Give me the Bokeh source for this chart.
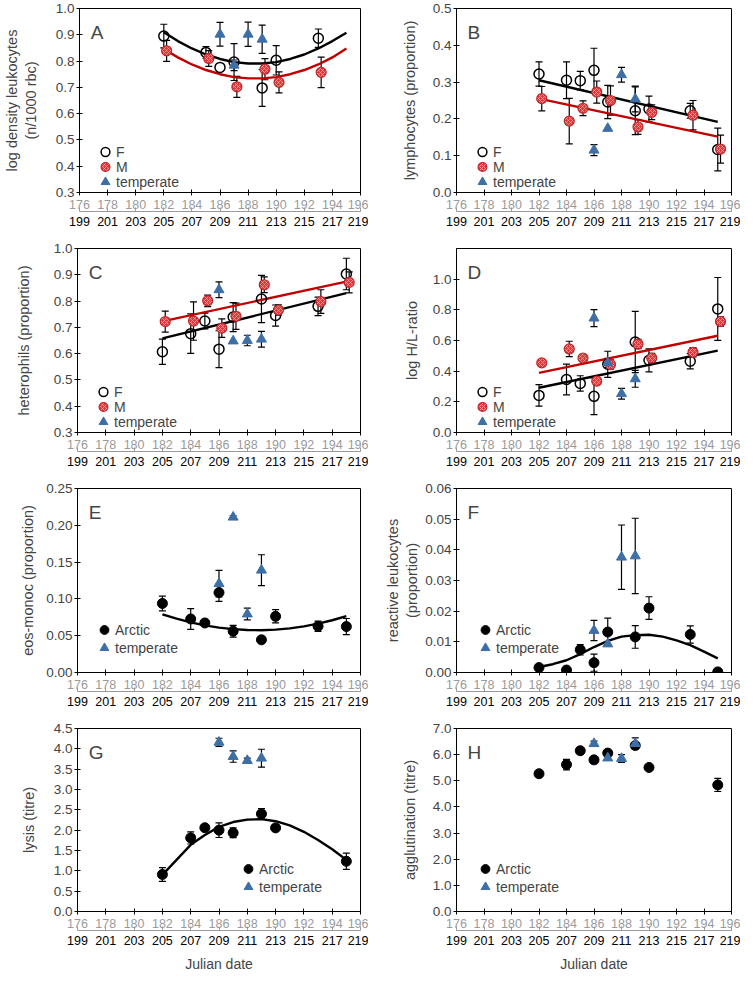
from bokeh.plotting import figure
from bokeh.models import (LinearAxis, Range1d, Whisker, TeeHead, ColumnDataSource,
                          Legend, LegendItem, Label, FixedTicker, SingleIntervalTicker,
                          NumeralTickFormatter)
from bokeh.layouts import column, row
from bokeh.embed import file_html
from bokeh.resources import INLINE

# ---------------- data ----------------
X_TICKS = [176, 178, 180, 182, 184, 186, 188, 190, 192, 194, 196]
JD_TICKS = [199, 201, 203, 205, 207, 209, 211, 213, 215, 217, 219]
FIT_DAYS = [182, 183, 184, 185, 186, 187, 188, 189, 190, 191, 192, 193, 194, 195]
LINE_DAYS = [182, 195]
DAYS9 = [182, 184, 185, 186, 187, 189, 190, 193, 195]
DAYS8 = [182, 184, 185, 186, 187, 189, 190, 195]
T_DAYS = [186, 187, 188, 189]

# A: log density leukocytes
A_F_days = [182, 185, 186, 187, 189, 190, 193]
A_F = [0.895, 0.833, 0.776, 0.796, 0.698, 0.803, 0.887]
A_F_se = [0.045, 0.022, 0.0, 0.07, 0.07, 0.056, 0.035]
A_M_days = [182, 185, 187, 189, 190, 193]
A_M = [0.839, 0.810, 0.702, 0.769, 0.719, 0.757]
A_M_se = [0.04, 0.03, 0.04, 0.04, 0.04, 0.058]
A_T = [0.902, 0.784, 0.902, 0.883]
A_T_se = [0.045, 0.02, 0.046, 0.054]
A_fitF = [0.910, 0.876, 0.848, 0.825, 0.808, 0.796, 0.791, 0.791, 0.796, 0.808, 0.825, 0.848, 0.876, 0.908]
A_fitM = [0.846, 0.814, 0.787, 0.766, 0.750, 0.739, 0.734, 0.734, 0.739, 0.750, 0.766, 0.787, 0.814, 0.848]

# B: lymphocytes
B_F = [0.322, 0.305, 0.304, 0.332, 0.246, 0.222, 0.227, 0.222, 0.117]
B_F_se = [0.033, 0.05, 0.025, 0.06, 0.045, 0.065, 0.035, 0.02, 0.058]
B_M = [0.255, 0.194, 0.229, 0.273, 0.250, 0.178, 0.218, 0.210, 0.118]
B_M_se = [0.033, 0.062, 0.02, 0.03, 0.04, 0.02, 0.02, 0.04, 0.038]
B_T = [0.115, 0.174, 0.320, 0.254]
B_T_se = [0.015, 0.0, 0.02, 0.035]
B_fitF = [0.305, 0.192]
B_fitM = [0.255, 0.152]

# C: heterophils
C_F = [0.607, 0.676, 0.724, 0.617, 0.739, 0.808, 0.745, 0.780, 0.903]
C_F_se = [0.048, 0.075, 0.03, 0.07, 0.055, 0.09, 0.04, 0.035, 0.06]
C_M = [0.722, 0.724, 0.801, 0.697, 0.742, 0.862, 0.766, 0.798, 0.871]
C_M_se = [0.04, 0.073, 0.022, 0.035, 0.05, 0.03, 0.02, 0.045, 0.04]
C_T = [0.843, 0.648, 0.650, 0.655]
C_T_se = [0.03, 0.0, 0.02, 0.03]
C_fitF = [0.658, 0.830]
C_fitM = [0.723, 0.874]

# D: log H/L ratio
D_F = [0.242, 0.346, 0.320, 0.236, 0.445, 0.590, 0.471, 0.465, 0.806]
D_F_se = [0.07, 0.10, 0.05, 0.12, 0.085, 0.20, 0.075, 0.05, 0.205]
D_M = [0.454, 0.545, 0.486, 0.335, 0.443, 0.577, 0.486, 0.523, 0.724]
D_M_se = [0.02, 0.05, 0.015, 0.02, 0.03, 0.03, 0.03, 0.03, 0.03]
D_T = [0.746, 0.454, 0.253, 0.350]
D_T_se = [0.055, 0.03, 0.035, 0.055]
D_fitF = [0.292, 0.534]
D_fitM = [0.389, 0.631]

# E: eos-monoc
E_A = [0.0938, 0.0727, 0.0673, 0.1086, 0.0561, 0.0444, 0.0763, 0.0628, 0.0624]
E_A_se = [0.010, 0.014, 0.003, 0.012, 0.008, 0.004, 0.009, 0.007, 0.011]
E_T = [0.1207, 0.211, 0.0794, 0.139]
E_T_se = [0.018, 0.002, 0.008, 0.021]
E_fit = [0.0790, 0.0731, 0.0681, 0.0641, 0.0610, 0.0589, 0.0577, 0.0575, 0.0583, 0.0600, 0.0627, 0.0664, 0.0710, 0.0766]

# F: reactive leukocytes
F_A = [0.0016, 0.0008, 0.0074, 0.0032, 0.0132, 0.0116, 0.0210, 0.0124, 0.0002]
F_A_se = [0.0005, 0.0, 0.0017, 0.0028, 0.0045, 0.0037, 0.0037, 0.0028, 0.0]
F_T = [0.0137, 0.0093, 0.0376, 0.0380]
F_T_se = [0.0033, 0.0, 0.0105, 0.0123]
F_fit = [0.0018, 0.0027, 0.0040, 0.0060, 0.0083, 0.0103, 0.0117, 0.0122, 0.0123, 0.0117, 0.0105, 0.0089, 0.0068, 0.0046]

# G: lysis
G_A = [0.911, 1.81, 2.06, 2.00, 1.935, 2.40, 2.056, 1.234]
G_A_se = [0.17, 0.15, 0.05, 0.18, 0.12, 0.13, 0.0, 0.2]
G_T = [4.16, 3.81, 3.71, 3.77]
G_T_se = [0.1, 0.14, 0.06, 0.22]
G_fit = [0.90, 1.27, 1.64, 1.88, 2.08, 2.20, 2.26, 2.27, 2.22, 2.12, 1.96, 1.76, 1.53, 1.27]

# H: agglutination
H_A = [5.27, 5.62, 6.15, 5.80, 6.06, 6.35, 5.51, 4.84]
H_A_se = [0.1, 0.2, 0.0, 0.05, 0.05, 0.1, 0.0, 0.25]
H_T = [6.42, 5.87, 5.85, 6.42]
H_T_se = [0.1, 0.0, 0.15, 0.22]

# ---------------- style ----------------
FONT = "Liberation Sans"
GRAY = "#9a9a9a"
BLUE = "#3d6fa6"
RED_LINE = "#c00000"
M_DODGE = 0.2


def make_fig(letter, ylo, yhi, ystep, yfmt, ylabel, left, bottom_row, label_standoff):
    if left:
        w, bl, br = 368, 77, 8
    else:
        w, bl, br = 372, 88, 9
    h = 254 if bottom_row else 240
    bb = 62 if bottom_row else 48
    p = figure(width=w, height=h, x_range=Range1d(176, 196), y_range=Range1d(ylo, yhi),
               output_backend="svg", toolbar_location=None,
               min_border_left=bl, min_border_right=br, min_border_top=8,
               min_border_bottom=bb, outline_line_color="black", outline_line_width=1)
    p.grid.visible = False
    p.background_fill_color = "white"
    p.border_fill_color = "white"

    xa = p.xaxis[0]
    xa.ticker = FixedTicker(ticks=X_TICKS)
    xa.axis_line_color = "black"
    xa.major_tick_line_color = "black"
    xa.major_tick_in = 3
    xa.major_tick_out = 3
    xa.minor_tick_line_color = None
    xa.major_label_text_color = GRAY
    xa.major_label_text_font = FONT
    xa.major_label_text_font_size = "12.5px"
    xa.major_label_standoff = 4

    p.extra_x_ranges = {"jd": Range1d(199, 219)}
    jd = LinearAxis(x_range_name="jd", ticker=FixedTicker(ticks=JD_TICKS))
    jd.axis_line_color = GRAY
    jd.major_tick_line_color = GRAY
    jd.major_tick_in = 4
    jd.major_tick_out = 0
    jd.minor_tick_line_color = None
    jd.major_label_text_color = "black"
    jd.major_label_text_font = FONT
    jd.major_label_text_font_size = "12.5px"
    jd.major_label_standoff = 5
    if bottom_row:
        jd.axis_label = "Julian date"
        jd.axis_label_text_font = FONT
        jd.axis_label_text_font_size = "14px"
        jd.axis_label_text_font_style = "normal"
        jd.axis_label_standoff = 8
    p.add_layout(jd, "below")

    ya = p.yaxis[0]
    ya.ticker = SingleIntervalTicker(interval=ystep, num_minor_ticks=0)
    ya.formatter = NumeralTickFormatter(format=yfmt)
    ya.axis_line_color = "black"
    ya.major_tick_line_color = "black"
    ya.major_tick_in = 3
    ya.major_tick_out = 3
    ya.minor_tick_line_color = None
    ya.major_label_text_font = FONT
    ya.major_label_text_font_size = "13.5px"
    ya.major_label_standoff = 2
    ya.axis_label = ylabel
    ya.axis_label_text_font = FONT
    ya.axis_label_text_font_size = "14.5px"
    ya.axis_label_text_font_style = "normal"
    ya.axis_label_standoff = label_standoff

    p.add_layout(Label(x=176.8, y=yhi - 0.075 * (yhi - ylo), text=letter,
                       text_font=FONT, text_font_size="19px", text_baseline="top"))
    return p


def add_errors(p, xs, ys, ses):
    xx = [x for x, s in zip(xs, ses) if s > 0]
    up = [y + s for y, s in zip(ys, ses) if s > 0]
    lo = [y - s for y, s in zip(ys, ses) if s > 0]
    src = ColumnDataSource(dict(x=xx, upper=up, lower=lo))
    w = Whisker(source=src, base="x", upper="upper", lower="lower",
                line_color="black", line_width=1.2,
                upper_head=TeeHead(size=7, line_color="black", line_width=1.2),
                lower_head=TeeHead(size=7, line_color="black", line_width=1.2))
    p.add_layout(w)


def add_legend(p, entries, loc, pitch):
    # one single-item legend per entry: a large glyph box gives ~9 px markers,
    # stacking the legends sets the row pitch of the reference
    n = len(entries)
    for i, (label, rend) in enumerate(entries):
        leg = Legend(items=[LegendItem(label=label, renderers=[rend])],
                     location=(loc[0], loc[1] + pitch * (n - 1 - i)),
                     background_fill_alpha=0, border_line_alpha=0, padding=0, margin=0,
                     spacing=0, glyph_width=22, glyph_height=25, label_height=15,
                     label_standoff=0, label_text_font=FONT, label_text_font_size="14px")
        p.add_layout(leg, "center")


def sex_panel(letter, ylo, yhi, ystep, yfmt, ylabel, left, f_days, f, f_se, m_days, m, m_se,
              t, t_se, fit_x, fitF, fitM, standoff, leg_loc):
    p = make_fig(letter, ylo, yhi, ystep, yfmt, ylabel, left, False, standoff)
    md = [d + M_DODGE for d in m_days]
    add_errors(p, f_days, f, f_se)
    add_errors(p, md, m, m_se)
    add_errors(p, T_DAYS, t, t_se)
    p.line(fit_x, fitF, line_color="black", line_width=2.4)
    p.line(fit_x, fitM, line_color=RED_LINE, line_width=2.4)
    rf = p.scatter(f_days, f, marker="circle", size=10, fill_color=None,
                   line_color="black", line_width=1.5)
    rm = p.scatter(md, m, marker="circle", size=10, fill_color="#e0363b",
                   hatch_pattern="diagonal_cross", hatch_color="#f4a4a4", hatch_scale=4,
                   hatch_weight=0.9, line_color="#c0262b", line_width=1.2)
    rt = p.scatter(T_DAYS, t, marker="triangle", size=10, fill_color=BLUE, line_color=BLUE)
    add_legend(p, [("F", rf), ("M", rm), ("temperate", rt)], leg_loc, 15)
    return p


def arctic_panel(letter, ylo, yhi, ystep, yfmt, ylabel, left, bottom_row, days, a, a_se,
                 t, t_se, fit, standoff, leg_loc):
    p = make_fig(letter, ylo, yhi, ystep, yfmt, ylabel, left, bottom_row, standoff)
    add_errors(p, days, a, a_se)
    add_errors(p, T_DAYS, t, t_se)
    if fit is not None:
        p.line(FIT_DAYS, fit, line_color="black", line_width=2.4)
    ra = p.scatter(days, a, marker="circle", size=10, fill_color="black", line_color="black")
    rt = p.scatter(T_DAYS, t, marker="triangle", size=10, fill_color=BLUE, line_color=BLUE)
    add_legend(p, [("Arctic", ra), ("temperate", rt)], leg_loc, 18)
    return p


pA = sex_panel("A", 0.3, 1.0, 0.1, "0.0", "log density leukocytes\n(n/1000 rbc)", True,
               A_F_days, A_F, A_F_se, A_M_days, A_M, A_M_se, A_T, A_T_se,
               FIT_DAYS, A_fitF, A_fitM, 14, (15, -2))
pB = sex_panel("B", 0.0, 0.5, 0.1, "0.0", "lymphocytes (proportion)", False,
               DAYS9, B_F, B_F_se, DAYS9, B_M, B_M_se, B_T, B_T_se,
               LINE_DAYS, B_fitF, B_fitM, 12, (15, -2))
pC = sex_panel("C", 0.3, 1.0, 0.1, "0.0", "heterophils (proportion)", True,
               DAYS9, C_F, C_F_se, DAYS9, C_M, C_M_se, C_T, C_T_se,
               LINE_DAYS, C_fitF, C_fitM, 19, (15, -2))
pD = sex_panel("D", 0.0, 1.2, 0.2, "0.0", "log H/L-ratio", False,
               DAYS9, D_F, D_F_se, DAYS9, D_M, D_M_se, D_T, D_T_se,
               LINE_DAYS, D_fitF, D_fitM, 10, (15, -2))
pE = arctic_panel("E", 0.0, 0.25, 0.05, "0.00", "eos-monoc (proportion)", True, False,
                  DAYS9, E_A, E_A_se, E_T, E_T_se, E_fit, 7, (16, 12))
pF = arctic_panel("F", 0.0, 0.06, 0.01, "0.00", "reactive leukocytes\n(proportion)", False, False,
                  DAYS9, F_A, F_A_se, F_T, F_T_se, F_fit, 2, (18, 12))
pG = arctic_panel("G", 0.0, 4.5, 0.5, "0.0", "lysis (titre)", True, True,
                  DAYS8, G_A, G_A_se, G_T, G_T_se, G_fit, 14, (160, 12))
pH = arctic_panel("H", 0.0, 7.0, 1.0, "0.0", "agglutination (titre)", False, True,
                  DAYS8, H_A, H_A_se, H_T, H_T_se, None, 12, (18, 12))

layout = column(row(pA, pB), row(pC, pD), row(pE, pF), row(pG, pH))
open("out.html", "w").write(file_html(layout, INLINE))
